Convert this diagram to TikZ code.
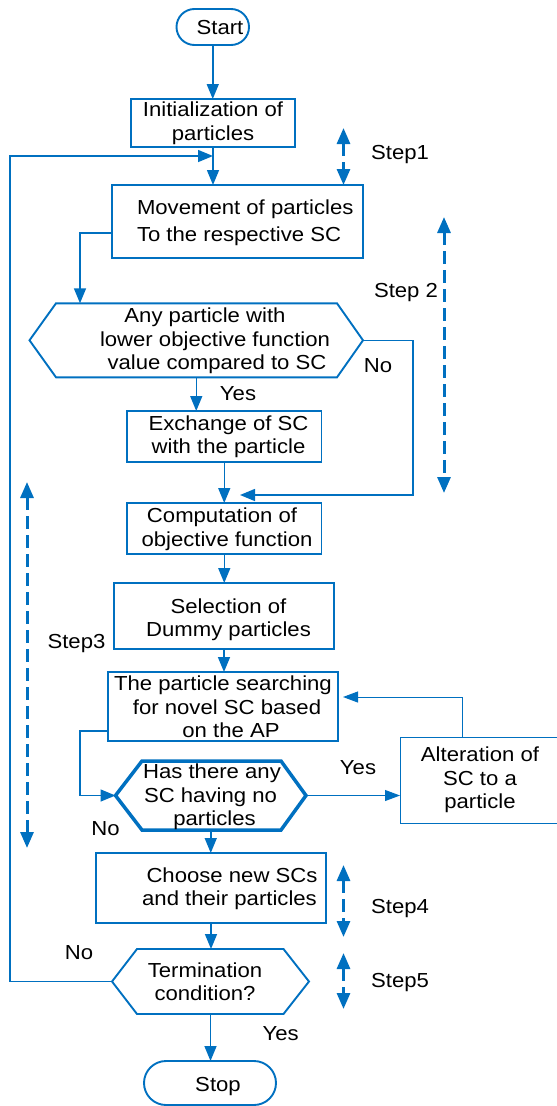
\documentclass[tikz,border=0pt]{standalone}
\usepackage{fontspec}
\setmainfont{Liberation Sans}[FakeStretch=1.09]
\usetikzlibrary{arrows.meta,calc}
\definecolor{fc}{RGB}{0,112,192}
\begin{document}
\begin{tikzpicture}[x=1pt,y=-1pt,
  every node/.style={font=\fontsize{20.3}{23.5}\selectfont, inner sep=0pt, outer sep=0pt},
  box/.style={draw=fc, line width=1.9pt, rectangle},
  term/.style={draw=fc, line width=1.9pt, rectangle},
  hexb/.style={rectangle},
  hexline/.style={draw=fc, line width=1.9pt, line join=miter},
  arr/.style={draw=fc, line width=1.5pt, -{Triangle[length=15pt,width=12pt]}},
  thinarr/.style={draw=fc, line width=1pt, -{Triangle[length=15pt,width=11pt]}},
  steparr/.style={draw=fc, line width=3pt, dash pattern=on 13pt off 6pt, {Triangle[length=16pt,width=13pt]}-{Triangle[length=16pt,width=13pt]}},
  lab/.style={text height=14.5pt, text depth=0pt}]
\useasboundingbox (0,0) rectangle (557,1106);

% shapes
\node[term, rounded corners=18pt, minimum width=72.5pt, minimum height=36pt] (start) at (212.75,27) {};
\node[box, minimum width=164pt, minimum height=48pt] (init) at (213,123) {};
\node[box, minimum width=251pt, minimum height=73pt] (move) at (237.5,221.5) {};
\node[hexb, minimum width=333.5pt, minimum height=74pt] (h1) at (196.25,340.3) {};
\draw[hexline] (h1.west) -- ([xshift=26.5pt]h1.north west) -- ([xshift=-26pt]h1.north east) -- (h1.east) -- ([xshift=-26pt]h1.south east) -- ([xshift=26.5pt]h1.south west) -- cycle;
\node[box, minimum width=194.5pt, minimum height=51pt] (exch) at (224.25,436.5) {};
\node[box, minimum width=194.5pt, minimum height=51pt] (comp) at (224.25,528.5) {};
\node[box, minimum width=220pt, minimum height=66pt] (sel) at (224,616) {};
\node[box, minimum width=230pt, minimum height=69pt] (search) at (223,706.5) {};
\node[hexb, minimum width=190.5pt, minimum height=69pt] (h2) at (210.75,795.5) {};
\draw[hexline, line width=3.5pt] (h2.west) -- ([xshift=26.5pt]h2.north west) -- ([xshift=-25pt]h2.north east) -- (h2.east) -- ([xshift=-25pt]h2.south east) -- ([xshift=26.5pt]h2.south west) -- cycle;
\node[box, line width=1pt, minimum width=160pt, minimum height=86pt] (alt) at (480,780) {};
\node[box, minimum width=230pt, minimum height=70pt] (choose) at (211,888) {};
\node[hexb, minimum width=197pt, minimum height=65pt] (term) at (210.5,981.5) {};
\draw[hexline] (term.west) -- ([xshift=25pt]term.north west) -- ([xshift=-25.5pt]term.north east) -- (term.east) -- ([xshift=-25.5pt]term.south east) -- ([xshift=25pt]term.south west) -- cycle;
\node[term, rounded corners=22pt, minimum width=132pt, minimum height=44pt] (stop) at (210,1083) {};

% texts
\node[lab] (t-start) at (220,27) {Start};
\node[align=center] (t-init) at (213,123) {Initialization of\\particles};
\node[align=left, anchor=west, font=\fontsize{20.3}{27}\selectfont] (t-move) at (137,222.5) {Movement of particles\\To the respective SC};
\node[align=center] (t-h1) at (212,341) {Any particle with\hspace*{14pt}\\\hspace*{6pt}lower objective function\\\hspace*{10pt}value compared to SC};
\node[align=center] (t-exch) at (228.5,436.5) {Exchange of SC\\with the particle};
\node[align=center] (t-comp) at (224.5,529) {Computation of\hspace*{5pt}\\\hspace*{5pt}objective function};
\node[align=center] (t-sel) at (228.5,619.5) {Selection of\\Dummy particles};
\node[align=center] (t-search) at (227,707) {The particle searching\hspace*{8pt}\\for novel SC based\\\hspace*{8pt}on the AP};
\node[align=center] (t-h2) at (210.5,797) {\hspace*{3pt}Has there any\\SC having no\hspace*{11pt}\\\hspace*{8pt}particles};
\node[align=center] (t-alt) at (480,780) {Alteration of\\SC to a\\particle};
\node[align=center] (t-choose) at (229.5,888.5) {\hspace*{5pt}Choose new SCs\\and their particles};
\node[align=center] (t-term) at (205,981.5) {Termination\\condition?};
\node[lab] (t-stop) at (218,1084) {Stop};

% labels
\node[lab] (s1) at (400,152) {Step1};
\node[lab] (s2) at (406,290) {Step 2};
\node[lab] (s3) at (76.5,641) {Step3};
\node[lab] (s4) at (400,906) {Step4};
\node[lab] (s5) at (400,980) {Step5};
\node[lab] (no1) at (378,365) {No};
\node[lab] (yes1) at (238,393) {Yes};
\node[lab] (yes2) at (358,767) {Yes};
\node[lab] (no2) at (105.5,828) {No};
\node[lab] (no3) at (79,952) {No};
\node[lab] (yes3) at (280.6,1033) {Yes};

% coordinates
\coordinate (loopin) at (init.south |- 0,156);
\coordinate (loopc) at (10,156);
\coordinate (mbend) at (80,233);
\coordinate (nocorner) at (413,495);
\coordinate (noin) at (240,495);
\coordinate (sbend) at (80,731);
\coordinate (fb) at (462,697);

% connectors
\draw[arr] (start.south) -- (start.south |- init.north);
\draw[arr] (init.south) -- (init.south |- move.north);
\draw[arr] (term.west) -| (loopc) -- (loopin);
\draw[arr] (move.west |- mbend) -- (mbend) -- (mbend |- h1.north);
\draw[arr] (h1.east) -| (nocorner) -- (noin);
\draw[arr] (h1.south) -- (h1.south |- exch.north);
\draw[arr] (exch.south) -- (exch.south |- comp.north);
\draw[arr] (comp.south) -- (comp.south |- sel.north);
\draw[arr] (sel.south) -- (sel.south |- search.north);
\draw[arr] (search.west |- sbend) -- (sbend) |- (h2.west);
\draw[thinarr] (h2.east) -- (alt.west |- h2.east);
\draw[thinarr] (alt.north -| fb) -- (fb) -- ([xshift=5pt]search.east |- fb);
\draw[arr] (h2.south) -- (h2.south |- choose.north);
\draw[arr] (choose.south) -- (choose.south |- term.north);
\draw[arr] (term.south) -- (term.south |- stop.north);

% step arrows
\coordinate (s1a) at (343.5,128); \coordinate (s1b) at (343.5,185);
\coordinate (s2a) at (444,217); \coordinate (s2b) at (444,493);
\coordinate (s3a) at (27,482); \coordinate (s3b) at (27,848);
\coordinate (s4a) at (343.5,865); \coordinate (s4b) at (343.5,937);
\coordinate (s5a) at (343.5,953); \coordinate (s5b) at (343.5,1009);
\draw[steparr] (s1a) -- (s1b);
\draw[steparr] (s2a) -- (s2b);
\draw[steparr] (s3a) -- (s3b);
\draw[steparr] (s4a) -- (s4b);
\draw[steparr] (s5a) -- (s5b);
\end{tikzpicture}
\end{document}
